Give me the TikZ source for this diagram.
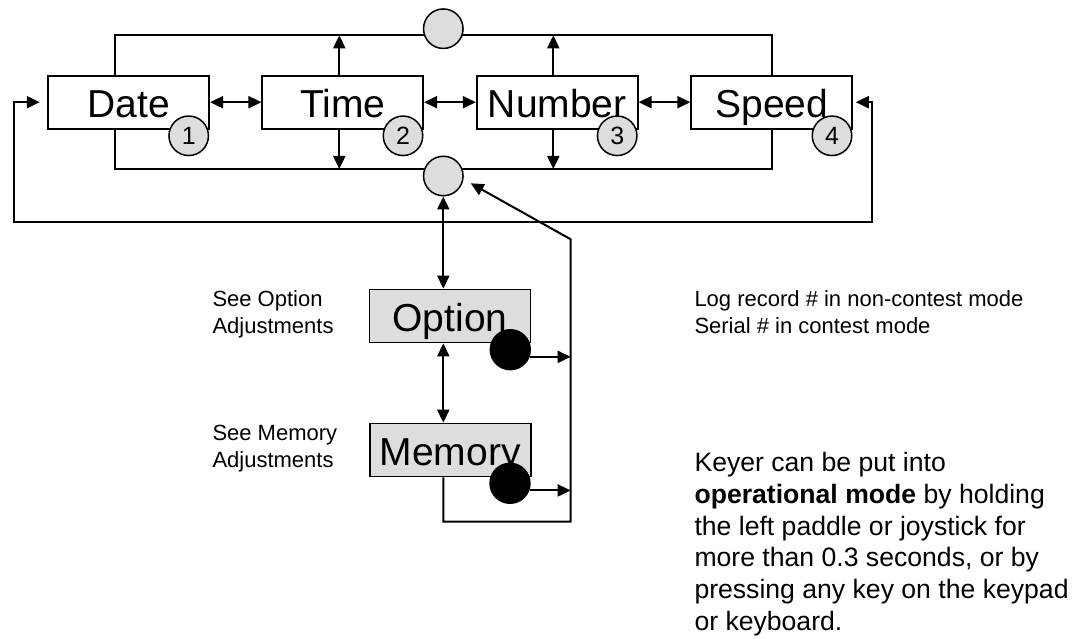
\documentclass[tikz,border=0pt]{standalone}
\usepackage{fontspec}
\setmainfont{Liberation Sans}
\usetikzlibrary{arrows.meta}
\definecolor{hubgray}{HTML}{DDDDDD}
\begin{document}
\begin{tikzpicture}[x=1pt,y=-1pt,
  box/.style={draw, line width=1.7pt, minimum width=161pt, minimum height=53pt, inner sep=0pt,
    text height=30pt, text depth=0pt, font=\fontsize{39}{47}\selectfont},
  optbox/.style={box, fill=hubgray},
  badge/.style={circle, draw, line width=1.5pt, fill=hubgray, minimum size=39.5pt, inner sep=0pt,
    font=\fontsize{25}{29}\selectfont},
  hub/.style={circle, draw, line width=1.5pt, fill=hubgray, minimum size=39.5pt, inner sep=0pt},
  blackdot/.style={circle, fill=black, minimum size=41.4pt, inner sep=0pt},
  conn/.style={line width=2pt},
  arr/.style={conn, -{Triangle[length=13pt,width=12pt]}},
  darr/.style={conn, {Triangle[length=13pt,width=12pt]}-{Triangle[length=13pt,width=12pt]}},
  note/.style={anchor=base west, inner sep=0pt, font=\fontsize{22}{27.3}\selectfont}]
\useasboundingbox (0,0) rectangle (1076,639);

% bus corner coordinates
\coordinate (tl) at (115,35.3);
\coordinate (tr) at (771.7,35.3);
\coordinate (bl) at (115,169);
\coordinate (br) at (771.7,169);
\coordinate (tx) at (339.3,0);
\coordinate (nx) at (553.3,0);
\coordinate (lbl) at (14,222.3);
\coordinate (lbr) at (872.3,222.3);
\coordinate (rb) at (570.7,521.7);
\coordinate (rv) at (570.7,239.3);
\coordinate (tipc) at (470.7,183.3);

% main boxes
\node[box] (date) at (128.7,102.2) {Date};
\node[box] (time) at (342.8,102.2) {Time};
\node[box] (number) at (557.2,102.2) {Number};
\node[box] (speed) at (771.7,102.2) {Speed};

% buses
\draw[conn] (tl |- date.north) -- (tl) -- (tr) -- (speed.north);
\draw[conn] (bl |- date.south) -- (bl) -- (br) -- (speed.south);
\draw[arr] (time.north -| tx) -- (tx |- tl);
\draw[arr] (time.south -| tx) -- (tx |- bl);
\draw[arr] (number.north -| nx) -- (nx |- tl);
\draw[arr] (number.south -| nx) -- (nx |- bl);

% horizontal links
\draw[darr] (date.east) -- (time.west);
\draw[darr] (time.east) -- (number.west);
\draw[darr] (number.east) -- (speed.west);

% outer loop
\draw[darr, shorten <=7.6pt, shorten >=2.7pt] (date.west) -| (lbl) -- (lbr) |- (speed.east);

% hubs
\node[hub] (topc) at (443.3,28.7) {};
\node[hub] (botc) at (443.3,176) {};

% badges
\node[badge] (b1) at (188.7,135.8) {1};
\node[badge] (b2) at (403,135.8) {2};
\node[badge] (b3) at (617.2,135.8) {3};
\node[badge] (b4) at (832,135.8) {4};

% option / memory
\node[optbox] (opt) at (450,316) {Option};
\node[optbox] (mem) at (450.2,450) {Memory};
\node[blackdot] (od) at (510.3,349.7) {};
\node[blackdot] (md) at (510,483.3) {};

\draw[darr] (botc.south) -- (botc.south |- opt.north);
\draw[darr] (botc |- opt.south) -- (botc |- mem.north);
\draw[arr] (od.-20) -- (od.-20 -| rv);
\draw[arr] (md.-20) -- (md.-20 -| rv);
\draw[arr] (botc |- mem.south) |- (rb) -- (rv) -- (tipc);

% notes
\node[note] (soa) at (212.3,306) {\vtop{\hbox{See Option}\hbox{Adjustments}}};
\node[note] (sma) at (212.3,440) {\vtop{\hbox{See Memory}\hbox{Adjustments}}};
\node[note] (log) at (694.3,306) {\vtop{\hbox{Log record \# in non-contest mode}\hbox{Serial \# in contest mode}}};
\node[note, font=\fontsize{26.6}{31.7}\selectfont] (keyer) at (694.3,471.7) {\vtop{%
  \hbox{Keyer can be put into}%
  \hbox{\textbf{operational mode} by holding}%
  \hbox{the left paddle or joystick for}%
  \hbox{more than 0.3 seconds, or by}%
  \hbox{pressing any key on the keypad}%
  \hbox{or keyboard.}}};
\end{tikzpicture}
\end{document}
